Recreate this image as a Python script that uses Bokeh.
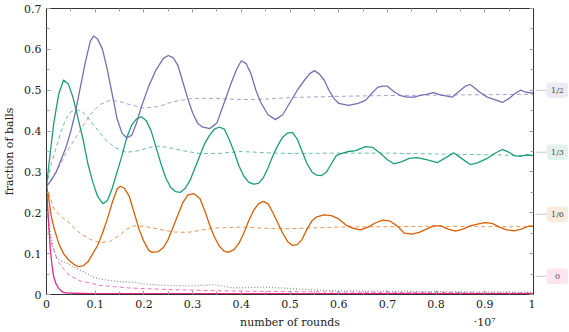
from bokeh.plotting import figure
from bokeh.models import Range1d, LinearAxis, FixedTicker, Label, CustomLabelingPolicy
from bokeh.core.properties import value
from bokeh.layouts import row, column
from bokeh.embed import file_html
from bokeh.resources import INLINE

# ---------------- data (x in units of 10^7 rounds) ----------------
half_x = [0.00, 0.01, 0.02, 0.03, 0.04, 0.05, 0.06, 0.07, 0.08, 0.09, 0.097, 0.105, 0.115, 0.125, 0.135,
          0.145, 0.155, 0.165, 0.175, 0.185, 0.195, 0.21, 0.225, 0.24, 0.25, 0.26, 0.27, 0.28, 0.29, 0.30,
          0.31, 0.32, 0.335, 0.35, 0.365, 0.38, 0.39, 0.40, 0.41, 0.42, 0.43, 0.44, 0.455, 0.47, 0.485,
          0.50, 0.515, 0.53, 0.54, 0.55, 0.56, 0.57, 0.58, 0.59, 0.60, 0.62, 0.64, 0.655, 0.67, 0.68,
          0.69, 0.70, 0.715, 0.727, 0.74, 0.754, 0.77, 0.78, 0.795, 0.81, 0.82, 0.833, 0.85, 0.86, 0.87,
          0.88, 0.89, 0.905, 0.92, 0.936, 0.95, 0.96, 0.973, 0.985, 1.00]
half_y = [0.265, 0.28, 0.30, 0.33, 0.36, 0.40, 0.45, 0.51, 0.57, 0.62, 0.633, 0.625, 0.60, 0.55, 0.49,
          0.43, 0.395, 0.383, 0.39, 0.42, 0.46, 0.51, 0.55, 0.578, 0.585, 0.58, 0.56, 0.52, 0.48, 0.445,
          0.42, 0.41, 0.406, 0.42, 0.47, 0.52, 0.55, 0.572, 0.565, 0.54, 0.50, 0.47, 0.44, 0.428, 0.44,
          0.47, 0.50, 0.525, 0.54, 0.548, 0.54, 0.525, 0.50, 0.48, 0.468, 0.463, 0.468, 0.475, 0.495, 0.507,
          0.51, 0.51, 0.495, 0.487, 0.483, 0.483, 0.488, 0.49, 0.494, 0.488, 0.486, 0.483, 0.50, 0.51, 0.514,
          0.505, 0.495, 0.483, 0.477, 0.47, 0.48, 0.49, 0.50, 0.495, 0.493]

half_d_x = [0.0, 0.02, 0.04, 0.068, 0.09, 0.11, 0.13, 0.15, 0.17, 0.2, 0.23, 0.26, 0.3, 0.35, 0.4, 0.45,
            0.5, 0.6, 0.7, 0.8, 0.9, 1.0]
half_d_y = [0.265, 0.30, 0.345, 0.40, 0.44, 0.465, 0.475, 0.473, 0.465, 0.456, 0.46, 0.472, 0.48, 0.48,
            0.477, 0.478, 0.482, 0.485, 0.487, 0.488, 0.489, 0.49]

third_x = [0.0, 0.008, 0.015, 0.025, 0.035, 0.045, 0.055, 0.065, 0.075, 0.085, 0.095, 0.105, 0.116, 0.125,
           0.135, 0.145, 0.155, 0.165, 0.175, 0.185, 0.195, 0.205, 0.215, 0.225, 0.235, 0.245, 0.255, 0.265,
           0.275, 0.285, 0.295, 0.305, 0.315, 0.325, 0.335, 0.345, 0.355, 0.365, 0.375, 0.385, 0.395, 0.405,
           0.415, 0.425, 0.435, 0.445, 0.455, 0.465, 0.475, 0.485, 0.495, 0.505, 0.515, 0.525, 0.535, 0.545,
           0.555, 0.565, 0.575, 0.585, 0.595, 0.605, 0.62, 0.635, 0.655, 0.67, 0.686, 0.70, 0.713, 0.73,
           0.745, 0.761, 0.78, 0.803, 0.82, 0.836, 0.85, 0.87, 0.885, 0.905, 0.92, 0.936, 0.95, 0.96, 0.973,
           0.985, 1.0]
third_y = [0.265, 0.35, 0.42, 0.49, 0.525, 0.515, 0.48, 0.43, 0.38, 0.32, 0.275, 0.24, 0.222, 0.23,
           0.26, 0.30, 0.34, 0.385, 0.415, 0.43, 0.435, 0.425, 0.40, 0.36, 0.32, 0.285, 0.262, 0.252,
           0.25, 0.26, 0.28, 0.31, 0.34, 0.37, 0.39, 0.405, 0.41, 0.405, 0.38, 0.35, 0.315, 0.29,
           0.275, 0.27, 0.272, 0.285, 0.31, 0.34, 0.365, 0.385, 0.395, 0.397, 0.38, 0.35, 0.32, 0.30,
           0.292, 0.291, 0.30, 0.32, 0.34, 0.345, 0.35, 0.352, 0.362, 0.36, 0.345, 0.33, 0.32, 0.325,
           0.333, 0.335, 0.33, 0.323, 0.335, 0.347, 0.335, 0.318, 0.322, 0.333, 0.345, 0.355, 0.348, 0.34, 0.338,
           0.342, 0.34]

third_d_x = [0.0, 0.01, 0.02, 0.03, 0.04, 0.05, 0.06, 0.07, 0.08, 0.1, 0.12, 0.14, 0.164, 0.19, 0.21, 0.226,
             0.25, 0.28, 0.314, 0.35, 0.4, 0.45, 0.5, 0.6, 0.7, 0.8, 0.9, 1.0]
third_d_y = [0.265, 0.32, 0.36, 0.40, 0.43, 0.447, 0.452, 0.45, 0.44, 0.41, 0.38, 0.36, 0.348, 0.352, 0.36,
             0.363, 0.36, 0.352, 0.345, 0.345, 0.35, 0.347, 0.345, 0.346, 0.346, 0.344, 0.342, 0.34]

sixth_x = [0.0, 0.004, 0.01, 0.015, 0.025, 0.035, 0.045, 0.055, 0.065, 0.075, 0.085, 0.095, 0.105, 0.115,
           0.125, 0.135, 0.145, 0.152, 0.16, 0.17, 0.18, 0.19, 0.2, 0.21, 0.217, 0.23, 0.24, 0.25, 0.26,
           0.27, 0.28, 0.29, 0.302, 0.315, 0.325, 0.335, 0.345, 0.355, 0.365, 0.373, 0.385, 0.395, 0.405,
           0.415, 0.425, 0.435, 0.445, 0.455, 0.465, 0.475, 0.485, 0.495, 0.505, 0.515, 0.525, 0.535, 0.545,
           0.555, 0.57, 0.585, 0.6, 0.615, 0.63, 0.645, 0.66, 0.675, 0.69, 0.705, 0.72, 0.735, 0.75, 0.765,
           0.78, 0.795, 0.81, 0.825, 0.84, 0.855, 0.87, 0.885, 0.9, 0.915, 0.93, 0.945, 0.96, 0.975, 0.99, 1.0]
sixth_y = [0.265, 0.24, 0.19, 0.165, 0.125, 0.10, 0.085, 0.075, 0.068, 0.07, 0.08, 0.10, 0.12, 0.15,
           0.185, 0.225, 0.258, 0.265, 0.26, 0.24, 0.20, 0.16, 0.13, 0.108, 0.103, 0.105, 0.115, 0.135, 0.165,
           0.195, 0.225, 0.243, 0.247, 0.235, 0.205, 0.17, 0.14, 0.118, 0.106, 0.103, 0.11, 0.125, 0.15,
           0.18, 0.205, 0.222, 0.228, 0.222, 0.20, 0.175, 0.15, 0.13, 0.12, 0.122, 0.135, 0.16, 0.18,
           0.19, 0.195, 0.193, 0.185, 0.17, 0.162, 0.158, 0.165, 0.175, 0.182, 0.18, 0.168, 0.15, 0.148, 0.152,
           0.16, 0.168, 0.168, 0.16, 0.155, 0.16, 0.168, 0.172, 0.176, 0.174, 0.165, 0.158, 0.156, 0.16, 0.167, 0.168]

sixth_d_x = [0.0, 0.015, 0.03, 0.043, 0.055, 0.07, 0.09, 0.11, 0.13, 0.15, 0.165, 0.179, 0.2, 0.23, 0.261,
             0.29, 0.32, 0.35, 0.4, 0.45, 0.5, 0.6, 0.7, 0.8, 0.9, 1.0]
sixth_d_y = [0.265, 0.21, 0.19, 0.18, 0.165, 0.149, 0.135, 0.127, 0.13, 0.145, 0.16, 0.168, 0.167, 0.16,
             0.153, 0.152, 0.158, 0.163, 0.165, 0.162, 0.161, 0.165, 0.166, 0.167, 0.166, 0.166]

zero_x = [0.0, 0.004, 0.008, 0.012, 0.015, 0.02, 0.025, 0.03, 0.035, 0.05, 0.1, 0.3, 0.6, 1.0]
zero_y = [0.265, 0.18, 0.108, 0.065, 0.042, 0.025, 0.015, 0.009, 0.005, 0.003, 0.002, 0.002, 0.002, 0.002]

zero_d_x = [0.0, 0.003, 0.008, 0.015, 0.022, 0.032, 0.043, 0.055, 0.07, 0.09, 0.11, 0.13, 0.17, 0.21, 0.26,
            0.32, 0.4, 0.5, 0.6, 0.7, 0.8, 0.9, 1.0]
zero_d_y = [0.265, 0.19, 0.13, 0.11, 0.085, 0.067, 0.051, 0.042, 0.033, 0.028, 0.022, 0.02, 0.016, 0.014,
            0.012, 0.01, 0.008, 0.007, 0.006, 0.005, 0.005, 0.004, 0.004]

other_x = [0.0, 0.003, 0.008, 0.015, 0.022, 0.03, 0.043, 0.055, 0.07, 0.085, 0.097, 0.115, 0.131, 0.155,
           0.18, 0.205, 0.248, 0.3, 0.343, 0.383, 0.445, 0.5, 0.55, 0.6, 0.7, 0.8, 0.9, 1.0]
other_y = [0.265, 0.2, 0.149, 0.11, 0.088, 0.082, 0.076, 0.068, 0.059, 0.05, 0.042, 0.037, 0.034, 0.031,
           0.03, 0.025, 0.022, 0.021, 0.024, 0.016, 0.018, 0.015, 0.011, 0.009, 0.008, 0.007, 0.006, 0.006]

x_ticks = [0.0, 0.1, 0.2, 0.3, 0.4, 0.5, 0.6, 0.7, 0.8, 0.9, 1.0]
x_tick_labels = ["0", "0.1", "0.2", "0.3", "0.4", "0.5", "0.6", "0.7", "0.8", "0.9", "1"]
y_ticks = [0.0, 0.1, 0.2, 0.3, 0.4, 0.5, 0.6, 0.7]
y_tick_labels = ["0", "0.1", "0.2", "0.3", "0.4", "0.5", "0.6", "0.7"]

limit_values = [0.5, 1 / 3, 1 / 6, 0.0]
limit_labels = ["1/2", "1/3", "1/6", "0"]

x_title = "number of rounds"
x_scale_note = "·10⁷"
y_title = "fraction of balls"

# ---------------- styles / layout ----------------
PURPLE, GREEN, ORANGE, PINK = "#7570b3", "#1b9e77", "#d95f02", "#e7298a"
TINTS = ["#ecebf5", "#e3f2ed", "#fbebdf", "#fce4f0"]
FONT = "DejaVu Serif"
TXT = "#222222"

MAIN_W, SIDE_W = 535, 33
MAIN_H, STRIP_H = 314, 16
B_LEFT, B_RIGHT, B_TOP, B_BOTTOM = 46, 2, 8, 20

p = figure(width=MAIN_W, height=MAIN_H, output_backend="svg", toolbar_location=None,
           x_range=Range1d(0, 1), y_range=Range1d(0, 0.7),
           min_border_left=B_LEFT, min_border_right=B_RIGHT,
           min_border_top=B_TOP, min_border_bottom=B_BOTTOM)
p.grid.visible = False
p.outline_line_color = None
p.background_fill_color = "white"
p.border_fill_color = "white"

top_axis = LinearAxis()
right_axis = LinearAxis()
p.add_layout(top_axis, "above")
p.add_layout(right_axis, "right")

xb = p.below[0]
yl = p.left[0]
minor_x = [i / 20 for i in range(21) if i % 2 == 1]
minor_y = [i / 20 for i in range(15) if i % 2 == 1]
for ax in (xb, top_axis):
    ax.ticker = FixedTicker(ticks=x_ticks, minor_ticks=minor_x)
for ax in (yl, right_axis):
    ax.ticker = FixedTicker(ticks=y_ticks, minor_ticks=minor_y)
for ax in (xb, yl, top_axis, right_axis):
    ax.major_tick_in = 4
    ax.major_tick_out = 0
    ax.minor_tick_in = 3
    ax.minor_tick_out = 0
    ax.major_tick_line_color = "#a0a0a0"
    ax.minor_tick_line_color = "#a0a0a0"
    ax.axis_line_color = "#333333"
    ax.major_label_text_font = FONT
    ax.major_label_text_font_size = "11px"
    ax.major_label_text_color = TXT
    ax.major_label_standoff = 5
hide_all = CustomLabelingPolicy(code="return new Set()")
for ax in (top_axis, right_axis):
    ax.major_label_policy = hide_all
    ax.major_label_text_font_size = "0px"
    ax.major_label_standoff = 0
    ax.axis_label_standoff = 0

xb.major_label_overrides = {v: s for v, s in zip(x_ticks, x_tick_labels)}
yl.major_label_overrides = {v: s for v, s in zip(y_ticks, y_tick_labels)}
yl.axis_label = y_title
yl.axis_label_text_font = FONT
yl.axis_label_text_font_size = "11px"
yl.axis_label_text_font_style = "normal"
yl.axis_label_text_color = TXT
yl.axis_label_standoff = 5

# dashed (mean-field) curves
for xs, ys, c in ((half_d_x, half_d_y, PURPLE), (third_d_x, third_d_y, GREEN),
                  (sixth_d_x, sixth_d_y, ORANGE), (zero_d_x, zero_d_y, PINK)):
    p.line(xs, ys, line_color=c, line_alpha=0.65, line_width=1, line_dash="4 3")
p.line(other_x, other_y, line_color="#8c8c8c", line_width=1.2, line_dash="1 2")
# simulated curves
for xs, ys, c in ((zero_x, zero_y, PINK), (sixth_x, sixth_y, ORANGE),
                  (third_x, third_y, GREEN), (half_x, half_y, PURPLE)):
    p.line(xs, ys, line_color=c, line_width=1.3)

# ---- side strip with the limit markers (same vertical scale as main frame) ----
frame_h = MAIN_H - B_TOP - B_BOTTOM
k = frame_h / 0.7          # pixels per data unit
p2 = figure(width=SIDE_W, height=MAIN_H, output_backend="svg", toolbar_location=None,
            x_range=Range1d(0, SIDE_W), y_range=Range1d(-B_BOTTOM / k, 0.7 + B_TOP / k),
            x_axis_type=None, y_axis_type=None,
            min_border_left=0, min_border_right=0, min_border_top=0, min_border_bottom=0)
p2.grid.visible = False
p2.outline_line_color = None
p2.background_fill_color = "white"
p2.border_fill_color = "white"
n = len(limit_values)
box_half_h = 8.5 / k
p2.segment(x0=[0] * n, y0=limit_values, x1=[11] * n, y1=limit_values,
           line_color="#c8c8c8", line_width=1)
p2.quad(left=[11] * n, right=[33] * n,
        bottom=[v - box_half_h for v in limit_values], top=[v + box_half_h for v in limit_values],
        fill_color=TINTS, line_color=None, border_radius=4)
p2.text(x=[22] * n, y=limit_values, text=limit_labels, text_align="center", text_baseline="middle",
        text_font=value(FONT), text_font_size="8px", text_color="#4a4a4a")

# ---- bottom strip with the x title and the scale note ----
p3 = figure(width=MAIN_W + SIDE_W, height=STRIP_H, output_backend="svg", toolbar_location=None,
            x_range=p.x_range, y_range=Range1d(0, 1), x_axis_type=None, y_axis_type=None,
            min_border_left=B_LEFT, min_border_right=B_RIGHT + SIDE_W,
            min_border_top=0, min_border_bottom=0)
p3.grid.visible = False
p3.outline_line_color = None
p3.background_fill_color = "white"
p3.border_fill_color = "white"
p3.add_layout(Label(x=0.5, y=0.5, text=x_title, text_align="center", text_baseline="middle",
                    text_font=FONT, text_font_size="11px", text_color=TXT))
p3.add_layout(Label(x=0.9, y=0.5, text=x_scale_note, text_align="center", text_baseline="middle",
                    text_font=FONT, text_font_size="11px", text_color=TXT))

layout = column(row(p, p2), p3)
open("out.html", "w").write(file_html(layout, INLINE))
